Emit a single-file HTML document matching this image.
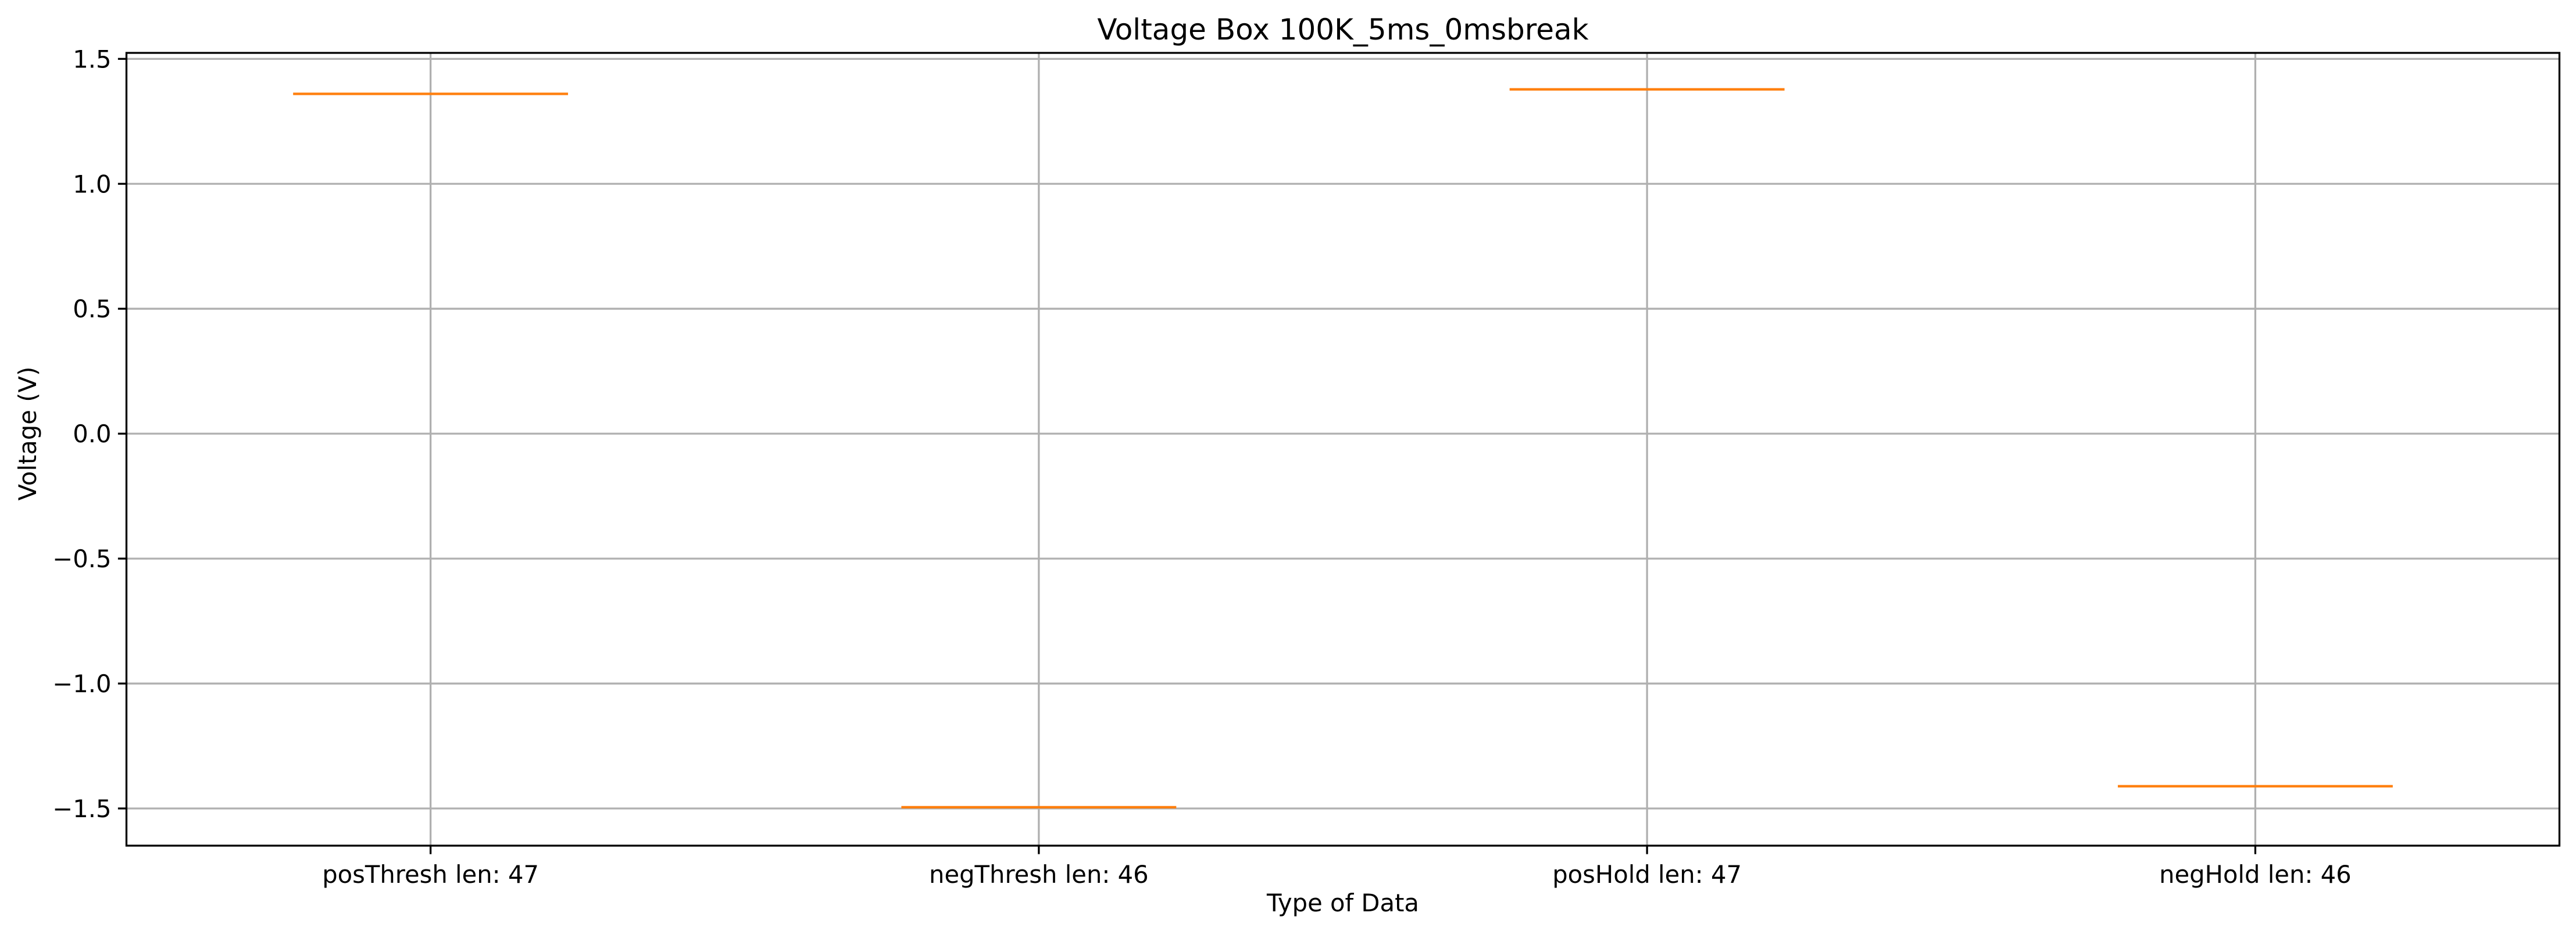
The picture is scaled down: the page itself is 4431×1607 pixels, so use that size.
<!DOCTYPE html>
<html><head><meta charset="utf-8"><style>
html,body{margin:0;padding:0;background:#fff;}
svg{display:block;font-family:"DejaVu Sans","Liberation Sans",sans-serif;}
</style></head><body>
<svg id="chart" width="4431" height="1607" viewBox="0 0 4431 1607" xmlns="http://www.w3.org/2000/svg">
<rect width="4431" height="1607" fill="#fff"/>
<text x="2310" y="68" font-size="50" text-anchor="middle">Voltage Box 100K_5ms_0msbreak</text>
<g id="grid"></g>
<g id="marks"></g>
<g id="axes"></g>
<text x="2310" y="1568" font-size="41.7" text-anchor="middle">Type of Data</text>
<text x="0" y="0" font-size="41.7" text-anchor="middle" transform="translate(62,746) rotate(-90)">Voltage (V)</text>
</svg>
<script>
const categories = ["posThresh len: 47", "negThresh len: 46", "posHold len: 47", "negHold len: 46"];
const medians = [1.36, -1.495, 1.378, -1.411];
const yTicks = [1.5, 1.0, 0.5, 0.0, -0.5, -1.0, -1.5];
const yTickLabels = ["1.5", "1.0", "0.5", "0.0", "\u22120.5", "\u22121.0", "\u22121.5"];

const L = 217.5, R = 4402.5, T = 91, B = 1455;
const xMin = 0.5, xMax = 4.5;
function xs(v){ return L + (v - xMin) / (xMax - xMin) * (R - L); }
function ys(v){ return 101.3 + (1.5 - v) / 3.0 * (1391 - 101.3); }
const NS = "http://www.w3.org/2000/svg";
function mk(tag, attrs, parent){ const e = document.createElementNS(NS, tag); for (const k in attrs) e.setAttribute(k, attrs[k]); parent.appendChild(e); return e; }
const grid = document.getElementById('grid'), marks = document.getElementById('marks'), axes = document.getElementById('axes');

yTicks.forEach((t, i) => {
  const y = ys(t);
  const g = mk('line', {x1:L, x2:R, y1:y, y2:y, stroke:'#b0b0b0', 'stroke-width':3.3}, grid);
  
  
  const tk = mk('line', {x1:L-14.6, x2:L, y1:y, y2:y, stroke:'#000', 'stroke-width':3.3}, axes);
  
  
  const tx = mk('text', {x:L-26, y:y+15, 'font-size':41.7, 'text-anchor':'end'}, axes);
  tx.textContent = yTickLabels[i];
  
  
});
categories.forEach((c, i) => {
  const x = xs(i + 1);
  const g = mk('line', {x1:x, x2:x, y1:T, y2:B, stroke:'#b0b0b0', 'stroke-width':3.3}, grid);
  
  
  const tk = mk('line', {x1:x, x2:x, y1:B, y2:B+14.6, stroke:'#000', 'stroke-width':3.3}, axes);
  
  
  const tx = mk('text', {x:x, y:B+64, 'font-size':41.7, 'text-anchor':'middle'}, axes);
  tx.textContent = c;
  
  
  const half = 0.226;
  const m = mk('line', {x1:xs(i+1-half), x2:xs(i+1+half), y1:ys(medians[i]), y2:ys(medians[i]), stroke:'#ff7f0e', 'stroke-width':4.2}, marks);
  
  
});
const frame = mk('rect', {x:L, y:T, width:R-L, height:B-T, fill:'none', stroke:'#000', 'stroke-width':3.3}, axes);


</script>
</body></html>
